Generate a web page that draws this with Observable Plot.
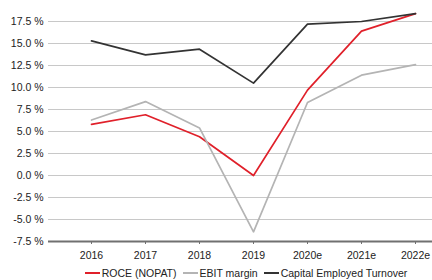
<!DOCTYPE html>
<html>
<head>
<meta charset="utf-8">
<script src="https://cdn.jsdelivr.net/npm/d3@7"></script>
<script src="https://cdn.jsdelivr.net/npm/@observablehq/plot@0.6"></script>
<style>
  html, body { margin: 0; padding: 0; background: #fff; }
  body { width: 432px; height: 280px; overflow: hidden; font-family: "Liberation Sans", Arial, sans-serif; }
  #legend { display: flex; justify-content: center; align-items: center; gap: 6px; font-size: 10.5px; color: #222; height: 14px; margin-left: 60px; }
  #legend span.item { display: inline-flex; align-items: center; gap: 2px; }
  #legend span.sw { display: inline-block; width: 15px; height: 2px; }
</style>
</head>
<body>
<div id="chart"></div>
<div id="legend"></div>
<script>
const years = ["2016", "2017", "2018", "2019", "2020e", "2021e", "2022e"];
const roce = [5.8, 6.9, 4.4, 0.0, 9.7, 16.4, 18.4];
const ebitMargin = [6.3, 8.4, 5.4, -6.4, 8.3, 11.4, 12.6];
const capTurnover = [15.3, 13.7, 14.35, 10.5, 17.2, 17.5, 18.4];
const seriesNames = ["ROCE (NOPAT)", "EBIT margin", "Capital Employed Turnover"];
const seriesColors = ["#e0202a", "#b4b4b4", "#333333"];
const yTicks = [-7.5, -5, -2.5, 0, 2.5, 5, 7.5, 10, 12.5, 15, 17.5];

const seriesValues = [roce, ebitMargin, capTurnover];
const data = [];
seriesNames.forEach((name, s) => {
  years.forEach((y, i) => data.push({series: name, year: y, value: seriesValues[s][i]}));
});

const fmt = v => v.toFixed(1) + " %";

const chart = Plot.plot({
  width: 432,
  height: 266,
  marginLeft: 48,
  marginRight: 0,
  marginTop: 10,
  marginBottom: 25,
  style: {fontFamily: "'Liberation Sans', Arial, sans-serif", fontSize: "10px", color: "#222"},
  x: {type: "point", domain: years, range: [89, 417], padding: 0, label: null},
  y: {domain: [-7.5, 17.5], range: [241, 21], label: null},
  color: {domain: seriesNames, range: seriesColors},
  marks: [
    Plot.ruleY(yTicks.filter(t => t !== -7.5), {stroke: "#c8c8c8", strokeWidth: 1}),
    Plot.ruleY([-7.5], {stroke: "#707070", strokeWidth: 2}),
    Plot.axisY({ticks: yTicks, tickFormat: fmt, tickSize: 0, tickPadding: 5, label: null, fontSize: 10.5, fill: "#222"}),
    Plot.axisX({tickSize: 3, tickPadding: 7, label: null, fontSize: 10.5, stroke: "#707070", fill: "#222"}),
    Plot.line(data, {x: "year", y: "value", z: "series", stroke: "series", strokeWidth: 1.7})
  ]
});
document.getElementById("chart").appendChild(chart);

const legend = document.getElementById("legend");
seriesNames.forEach((name, i) => {
  const item = document.createElement("span");
  item.className = "item";
  const sw = document.createElement("span");
  sw.className = "sw";
  sw.style.background = seriesColors[i];
  item.appendChild(sw);
  item.appendChild(document.createTextNode(name));
  legend.appendChild(item);
});
</script>
</body>
</html>
